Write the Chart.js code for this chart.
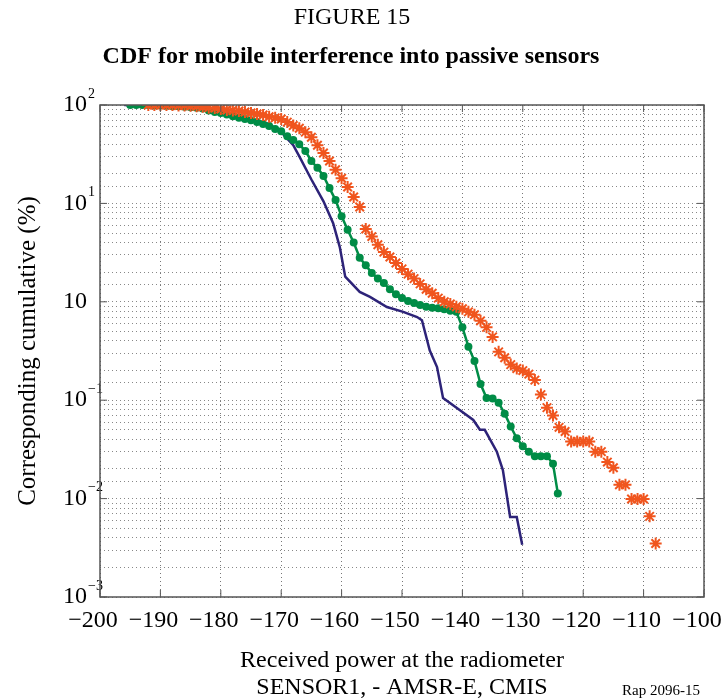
<!DOCTYPE html>
<html>
<head>
<meta charset="utf-8">
<script src="https://cdn.jsdelivr.net/npm/chart.js@4.4.0/dist/chart.umd.min.js"></script>
<style>
body { margin: 0; background: #fff; }
</style>
</head>
<body>
<canvas id="chart" width="724" height="698"></canvas>
<script>
// values (received power in dBW, cumulative in %)
const blueX = [-196, -190, -185, -180, -176, -172, -170, -168, -167, -165, -163, -161.4, -160.3, -159.4, -157, -155.3, -152.5, -149.8, -147.5, -146.7, -145.4, -144.2, -143.2, -140.4, -138.2, -137.1, -136.3, -134.3, -133.3, -132.1, -131, -130.1];
const blueY = [100, 99, 95, 86, 75, 64, 53, 39, 30, 17.5, 10.5, 6.3, 3.6, 1.8, 1.26, 1.12, 0.885, 0.79, 0.70, 0.65, 0.32, 0.217, 0.105, 0.079, 0.063, 0.050, 0.050, 0.030, 0.0195, 0.0065, 0.0065, 0.0034];

const greenX = [-195, -194, -193, -192, -191, -190, -189, -188, -187, -186, -185, -184, -183, -182, -181, -180, -179, -178, -177, -176, -175, -174, -173, -172, -171, -170, -169, -168, -167, -166, -165, -164, -163, -162, -161, -160, -159, -158, -157, -156, -155, -154, -153, -152, -151, -150, -149, -148, -147, -146, -145, -144, -143, -142, -141, -140, -139, -138, -137, -136, -135, -134, -133, -132, -131, -130, -129, -128, -127, -126, -125, -124.2];
const greenY = [100, 100, 100, 100, 99, 99, 98, 97, 97, 96, 95, 94, 92, 88, 85, 83, 80, 77, 74, 72, 70, 67, 64, 61, 57, 54, 48, 44, 40, 34, 27, 23, 19, 14.3, 10.8, 7.4, 5.4, 4.0, 2.8, 2.35, 1.96, 1.72, 1.55, 1.34, 1.19, 1.09, 1.02, 0.97, 0.93, 0.89, 0.87, 0.86, 0.84, 0.81, 0.79, 0.55, 0.35, 0.25, 0.146, 0.105, 0.104, 0.094, 0.073, 0.054, 0.041, 0.034, 0.030, 0.027, 0.027, 0.027, 0.0226, 0.0113];

const orangeX = [-192, -191, -190, -189, -188, -187, -186, -185, -184, -183, -182, -181, -180, -179, -178, -177, -176, -175, -174, -173, -172, -171, -170, -169, -168, -167, -166, -165, -164, -163, -162, -161, -160, -159, -158, -157, -156, -155, -154, -153, -152, -151, -150, -149, -148, -147, -146, -145, -144, -143, -142, -141, -140, -139, -138, -137, -136, -135, -134, -133, -132, -131, -130, -129, -128, -127, -126, -125, -124, -123, -122, -121, -120, -119, -118, -117, -116, -115, -114, -113, -112, -111, -110, -109, -108];
const orangeY = [100, 100, 100, 100, 100, 99, 99, 98, 97, 96, 94, 93, 91, 89, 88, 87, 85, 83, 81, 79, 76, 74, 72, 67, 62, 58, 53, 47, 39, 32.5, 27, 22, 18, 14.7, 11.6, 9.2, 5.5, 4.6, 3.8, 3.2, 2.85, 2.48, 2.16, 1.91, 1.72, 1.52, 1.34, 1.22, 1.09, 1.0, 0.95, 0.89, 0.85, 0.79, 0.74, 0.64, 0.55, 0.44, 0.31, 0.27, 0.23, 0.21, 0.20, 0.184, 0.16, 0.114, 0.084, 0.070, 0.053, 0.048, 0.038, 0.038, 0.038, 0.038, 0.030, 0.030, 0.0235, 0.0206, 0.0138, 0.0138, 0.0099, 0.0099, 0.0099, 0.0066, 0.0035];

const decades = [0.001, 0.01, 0.1, 1, 10, 100];
const decadeExp = ['\u22123', '\u22122', '\u22121', '', '1', '2'];

const serif = '"Liberation Serif", "DejaVu Serif", serif';

var toPoints = (xs, ys) => xs.map((x, i) => ({ x: x, y: ys[i] }));

var isDecade = (v) => decades.some(d => Math.abs(v - d) / d < 1e-6);

// titles, frame, inward ticks and exponents
const decorPlugin = {
	id: 'decor',
	afterDraw(chart) {
		const ctx = chart.ctx;
		const a = chart.chartArea;
		const xs = chart.scales.x;
		const ys = chart.scales.y;
		ctx.save();
		ctx.fillStyle = '#000';
		ctx.textAlign = 'center';
		ctx.textBaseline = 'middle';

		ctx.font = '24px ' + serif;
		ctx.fillText('FIGURE 15', 352, 18);
		ctx.font = 'bold 24px ' + serif;
		ctx.fillText('CDF for mobile interference into passive sensors', 351, 57);

		ctx.font = '24px ' + serif;
		ctx.fillText('Received power at the radiometer', (a.left + a.right) / 2, 661);
		ctx.fillText('SENSOR1, - AMSR-E, CMIS', (a.left + a.right) / 2, 688);

		ctx.save();
		ctx.font = '25px ' + serif;
		ctx.translate(28, (a.top + a.bottom) / 2);
		ctx.rotate(-Math.PI / 2);
		ctx.fillText('Corresponding cumulative (%)', 0, 0);
		ctx.restore();

		ctx.font = '15px ' + serif;
		ctx.textAlign = 'left';
		ctx.fillText('Rap 2096-15', 622, 691);

		// exponents of the y labels
		ctx.font = '14px ' + serif;
		for (let i = 0; i < decades.length; i++) {
			if (!decadeExp[i]) continue;
			const py = ys.getPixelForValue(decades[i]);
			ctx.fillText(decadeExp[i], 88, py - 11);
		}

		// frame
		ctx.strokeStyle = '#555';
		ctx.lineWidth = 1.5;
		ctx.strokeRect(a.left, a.top, a.right - a.left, a.bottom - a.top);

		// inward ticks
		ctx.lineWidth = 1;
		ctx.beginPath();
		xs.ticks.forEach(t => {
			const px = xs.getPixelForValue(t.value);
			ctx.moveTo(px, a.bottom);
			ctx.lineTo(px, a.bottom - 7);
			ctx.moveTo(px, a.top);
			ctx.lineTo(px, a.top + 7);
		});
		decades.forEach(d => {
			const py = ys.getPixelForValue(d);
			ctx.moveTo(a.left, py);
			ctx.lineTo(a.left + 7, py);
			ctx.moveTo(a.right, py);
			ctx.lineTo(a.right - 7, py);
		});
		ctx.stroke();
		ctx.restore();
	}
};

var drawChart = () => {
	new Chart(document.getElementById('chart'), {
		type: 'line',
		data: {
			datasets: [
				{
					label: 'orange',
					data: toPoints(orangeX, orangeY),
					showLine: false,
					pointStyle: 'star',
					pointRadius: 6,
					borderWidth: 2,
					borderColor: 'rgb(240, 85, 30)',
					backgroundColor: 'rgb(240, 85, 30)',
					order: 0
				},
				{
					label: 'green',
					data: toPoints(greenX, greenY),
					borderColor: 'rgb(0, 140, 70)',
					backgroundColor: 'rgb(0, 140, 70)',
					borderWidth: 2.5,
					pointRadius: 4,
					pointBorderWidth: 0,
					order: 1
				},
				{
					label: 'blue',
					data: toPoints(blueX, blueY),
					borderColor: 'rgb(45, 35, 120)',
					borderWidth: 2.5,
					pointRadius: 0,
					order: 2
				}
			]
		},
		options: {
			responsive: false,
			animation: false,
			layout: { padding: { top: 105, right: 20, left: 0, bottom: 0 } },
			plugins: {
				legend: { display: false },
				tooltip: { enabled: false }
			},
			scales: {
				x: {
					type: 'linear',
					min: -200,
					max: -100,
					border: { display: false, dash: [1, 3] },
					grid: {
						color: '#777',
						lineWidth: 1,
						drawTicks: false
					},
					ticks: {
						stepSize: 10,
						padding: 9,
						labelOffset: -7,
						color: '#000',
						font: { family: serif, size: 24 },
						callback: (v) => v < 0 ? '\u2212' + Math.abs(v) : String(v)
					},
					afterFit: (scale) => {
						scale.height = 101;
						scale.paddingLeft = 0;
						scale.paddingRight = 0;
					}
				},
				y: {
					type: 'logarithmic',
					min: 0.001,
					max: 100,
					border: { display: false, dash: [1, 3] },
					grid: {
						color: '#888',
						lineWidth: 1,
						drawTicks: false
					},
					ticks: {
						padding: 13,
						color: '#000',
						autoSkip: false,
						font: { family: serif, size: 24 },
						callback: (v) => isDecade(v) ? '10' : ''
					},
					afterFit: (scale) => {
						scale.width = 100;
						scale.paddingTop = 0;
						scale.paddingBottom = 0;
					}
				}
			}
		},
		plugins: [decorPlugin]
	});
};

drawChart();
</script>
</body>
</html>
